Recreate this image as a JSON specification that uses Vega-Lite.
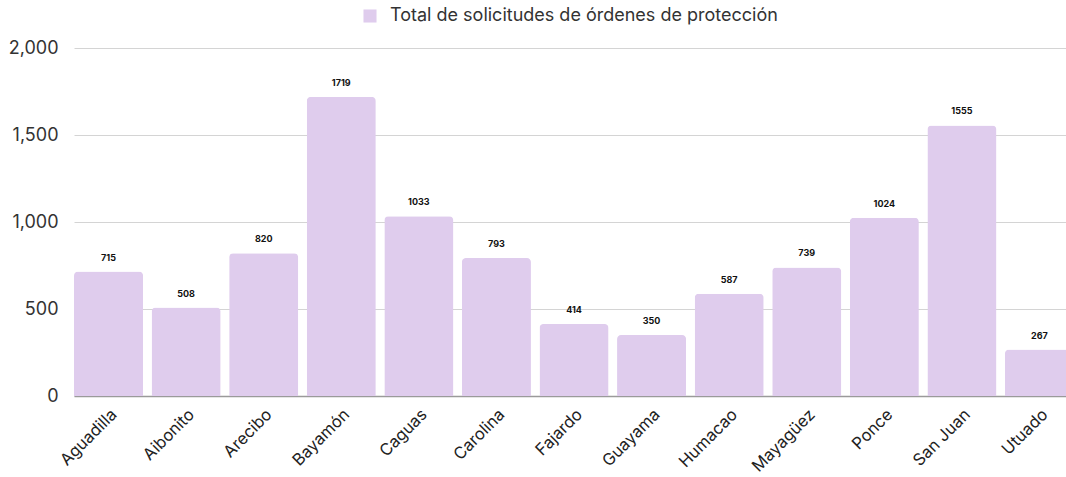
{
  "$schema": "https://vega.github.io/schema/vega-lite/v6.json",
  "autosize": "none",
  "width": 992,
  "height": 348,
  "padding": {"left": 74, "top": 48, "right": 0, "bottom": 81},
  "background": "white",
  "config": {
    "font": "Inter",
    "view": {"stroke": null}
  },
  "data": {
    "values": [
      {"region": "Aguadilla", "total": 715},
      {"region": "Aibonito", "total": 508},
      {"region": "Arecibo", "total": 820},
      {"region": "Bayamón", "total": 1719},
      {"region": "Caguas", "total": 1033},
      {"region": "Carolina", "total": 793},
      {"region": "Fajardo", "total": 414},
      {"region": "Guayama", "total": 350},
      {"region": "Humacao", "total": 587},
      {"region": "Mayagüez", "total": 739},
      {"region": "Ponce", "total": 1024},
      {"region": "San Juan", "total": 1555},
      {"region": "Utuado", "total": 267}
    ]
  },
  "encoding": {
    "x": {
      "field": "region",
      "type": "nominal",
      "sort": null,
      "scale": {"range": [0, 1000], "paddingInner": 0.11, "paddingOuter": 0},
      "axis": {
        "title": null,
        "labelAngle": -45,
        "labelFontSize": 16.5,
        "labelColor": "#222222",
        "labelPadding": 10,
        "ticks": false,
        "domainColor": "#9a9a9a",
        "domainWidth": 1.5,
        "grid": false
      }
    },
    "y": {
      "field": "total",
      "type": "quantitative",
      "scale": {"domain": [0, 2000]},
      "axis": {
        "title": null,
        "values": [0, 500, 1000, 1500, 2000],
        "format": ",d",
        "labelFontSize": 18,
        "labelColor": "#333333",
        "labelPadding": 16,
        "ticks": false,
        "domain": false,
        "gridColor": "#d4d4d4",
        "gridWidth": 1
      }
    }
  },
  "layer": [
    {
      "mark": {"type": "bar", "cornerRadiusTopLeft": 4, "cornerRadiusTopRight": 4},
      "encoding": {
        "color": {
          "datum": "Total de solicitudes de órdenes de protección",
          "scale": {"range": ["#dfcced"]},
          "legend": {
            "title": null,
            "orient": "none",
            "legendX": 287,
            "legendY": -41,
            "symbolType": "square",
            "symbolSize": 170,
            "symbolStrokeWidth": 0,
            "labelFontSize": 18,
            "labelColor": "#333333",
            "labelOffset": 11,
            "labelLimit": 0
          }
        }
      }
    },
    {
      "mark": {"type": "text", "dy": -14, "fontSize": 9, "fontWeight": "bold", "color": "#111111"},
      "encoding": {
        "text": {"field": "total", "type": "quantitative", "format": "d"}
      }
    }
  ]
}
